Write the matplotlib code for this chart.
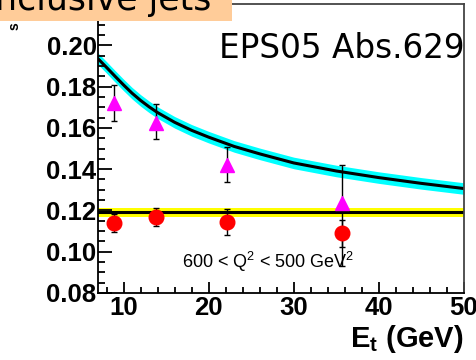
#! /usr/bin/env python3

import matplotlib
matplotlib.use("Agg")
import matplotlib.pyplot as plt
from matplotlib.font_manager import FontProperties
from matplotlib.patches import Rectangle
from matplotlib.ticker import MultipleLocator

"""
Valeurs lues sur la figure.
"""

# ajustement (courbe noire + bande cyan)
fit_x = [7, 8, 9, 10, 11, 12, 13, 14, 16, 18, 20, 23, 26, 30, 35, 40, 45, 50]
fit_y = [0.1935, 0.1893, 0.1850, 0.1808, 0.1768, 0.1733, 0.1702, 0.1674, 0.1627,
         0.1588, 0.1555, 0.1510, 0.1474, 0.1430, 0.1391, 0.1359, 0.1331, 0.1306]
fit_band = 0.0028

# valeur constante (ligne noire + bande jaune)
alpha_const = 0.1190
alpha_band = 0.0022

# triangles magenta
tri_x  = [8.85, 13.77, 22.2, 35.7]
tri_y  = [0.1720, 0.1623, 0.1420, 0.1236]
tri_lo = [0.0087, 0.0078, 0.0083, 0.0305]
tri_hi = [0.0090, 0.0092, 0.0087, 0.0184]

# cercles rouges
dot_x   = [8.85, 13.77, 22.2, 35.7]
dot_y   = [0.1139, 0.1168, 0.1144, 0.1090]
dot_err = [0.0045, 0.0042, 0.0063, 0.0065]

x_ticks = [10, 20, 30, 40, 50]
y_ticks = [0.08, 0.10, 0.12, 0.14, 0.16, 0.18, 0.20]

"""
Figure.
"""

W, H = 477, 360
fig = plt.figure(figsize=(W / 100, H / 100), dpi=100)
ax = fig.add_axes([98 / W, 1 - 293 / H, 366 / W, 289 / H])

ax.fill_between(fit_x, [y - fit_band for y in fit_y], [y + fit_band for y in fit_y],
                color="#00ffff", lw=0, zorder=1)
ax.plot(fit_x, fit_y, color="black", lw=2.2, zorder=2)

ax.axhspan(alpha_const - alpha_band, alpha_const + alpha_band, color="#ffff00", lw=0, zorder=1)
ax.axhline(alpha_const, color="black", lw=2.2, zorder=2)

ax.errorbar(tri_x, tri_y, yerr=[tri_lo, tri_hi], fmt="^", color="#ff00ff", mec="#ff00ff",
            ms=10, ecolor="black", elinewidth=1, capsize=2.5, capthick=1, zorder=3)
ax.errorbar(dot_x, dot_y, yerr=dot_err, fmt="o", color="#ff0000", mec="#ff0000",
            ms=10.5, ecolor="black", elinewidth=1, capsize=2.5, capthick=1, zorder=3)

ax.set_xlim(7, 50)
ax.set_ylim(0.08, 0.22)
ax.set_xticks(x_ticks)
ax.set_yticks(y_ticks)
ax.set_xticklabels([str(t) for t in x_ticks])
ax.set_yticklabels([f"{t:.2f}" for t in y_ticks])
ax.xaxis.set_minor_locator(MultipleLocator(2))
ax.yaxis.set_minor_locator(MultipleLocator(0.005))

tick_font = FontProperties(family="Liberation Sans", weight="bold", size=18.5)
for lab in ax.get_xticklabels() + ax.get_yticklabels():
    lab.set_fontproperties(tick_font)
ax.tick_params(which="both", direction="in", width=1.3, color="black")
ax.tick_params(which="major", length=10, pad=1)
ax.tick_params(axis="y", which="minor", length=5)
ax.tick_params(axis="x", which="minor", length=4)
ax.tick_params(axis="x", which="major", length=8, pad=2)
ax.tick_params(top=False, right=False, which="both")
for s in ax.spines.values():
    s.set_linewidth(1.3)
ax.spines["right"].set_color("#444444")
ax.spines["top"].set_color("#444444")

"""
Textes.
"""

fig.text(464 / W, 1 - 347 / H, r"E$_\mathregular{t}$ (GeV)", ha="right", va="baseline",
         family="Liberation Sans", weight="bold", size=21)
fig.text(465 / W, 1 - 58 / H, "EPS05 Abs.629", ha="right", va="baseline",
         family="DejaVu Sans", size=23.5)
fig.text(182 / W, 1 - 268 / H, r"600 < Q$^\mathregular{2}$ < 500 GeV$^\mathregular{2}$",
         ha="left", va="baseline", family="Liberation Sans", size=13)
fig.text(15 / W, 1 - 26 / H, "s", rotation=90, ha="center", va="center",
         family="Liberation Sans", weight="bold", size=10)

fig.add_artist(Rectangle((0, 1 - 21 / H), 232 / W, 21 / H, transform=fig.transFigure,
                         facecolor="#ffcc99", edgecolor="none", zorder=5))
fig.text(211 / W, 1 - 10 / H, "Inclusive jets", ha="right", va="baseline",
         family="DejaVu Sans", size=25, zorder=6)

fig.savefig("out.png", dpi=100)
